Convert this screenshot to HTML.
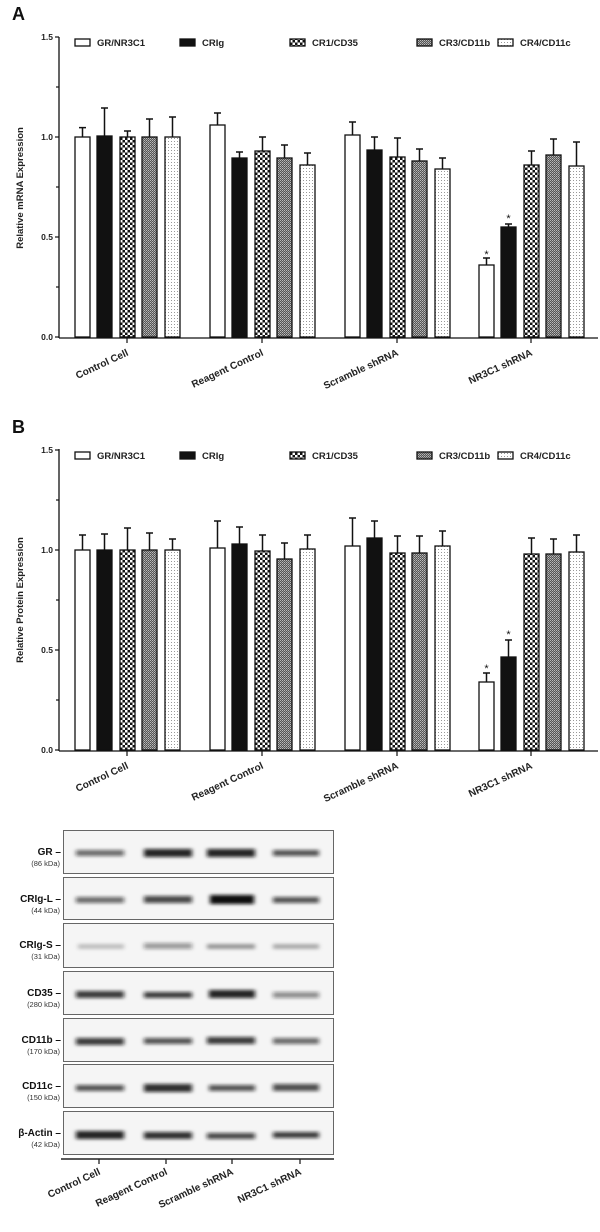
<!DOCTYPE html>
<html><head><meta charset="utf-8"><style>
html,body{margin:0;padding:0;background:#fff;}
svg{display:block;font-family:"Liberation Sans",Arial,sans-serif;}
.t{font-weight:bold;font-size:8.5px;fill:#222;}
.c{font-weight:bold;font-size:10px;fill:#222;}
.lg{font-weight:bold;font-size:9.5px;fill:#222;}
.yl{font-weight:bold;font-size:9.5px;fill:#222;}
.big{font-weight:bold;font-size:18px;fill:#111;}
.bar{stroke:#111;stroke-width:1.3;}
.eb{stroke:#111;stroke-width:1.5;fill:none;}
.kd{font-size:7.5px;fill:#333;}
.bn{font-weight:bold;font-size:10px;fill:#111;}
</style></head><body>
<svg width="600" height="1232" viewBox="0 0 600 1232" xmlns="http://www.w3.org/2000/svg">
<defs>
<pattern id="chk" width="5" height="5" patternUnits="userSpaceOnUse">
<rect width="5" height="5" fill="#111"/><rect x="0" y="0" width="2.5" height="2.5" fill="#fff"/><rect x="2.5" y="2.5" width="2.5" height="2.5" fill="#fff"/></pattern>
<pattern id="gry" width="2" height="2" patternUnits="userSpaceOnUse">
<rect width="2" height="2" fill="#555"/><rect width="1" height="1" fill="#bbb"/><rect x="1" y="1" width="1" height="1" fill="#999"/></pattern>
<pattern id="dot" width="3" height="3" patternUnits="userSpaceOnUse">
<rect width="3" height="3" fill="#fff"/><rect width="1" height="1" fill="#999"/></pattern>
<filter id="bl" x="-20%" y="-150%" width="140%" height="400%"><feGaussianBlur stdDeviation="2 1.7"/></filter>
</defs>

<text class="big" x="12" y="20">A</text>
<text class="big" x="12" y="433">B</text>

<g>
<line x1="59" y1="37" x2="59" y2="338" stroke="#111" stroke-width="1.3"/>
<line x1="59" y1="338" x2="598" y2="338" stroke="#111" stroke-width="1.3"/>
<g stroke="#111" stroke-width="1.2">
<line x1="55" y1="37" x2="59" y2="37"/><line x1="56" y1="87" x2="59" y2="87"/><line x1="55" y1="137" x2="59" y2="137"/><line x1="56" y1="187" x2="59" y2="187"/><line x1="55" y1="237" x2="59" y2="237"/><line x1="56" y1="287" x2="59" y2="287"/><line x1="55" y1="337" x2="59" y2="337"/>
<line x1="127" y1="338" x2="127" y2="343"/><line x1="262" y1="338" x2="262" y2="343"/><line x1="397" y1="338" x2="397" y2="343"/><line x1="531" y1="338" x2="531" y2="343"/>
</g>
<g class="t" text-anchor="end"><text x="53" y="40">1.5</text><text x="53" y="140">1.0</text><text x="53" y="240">0.5</text><text x="53" y="340">0.0</text></g>
<text class="yl" transform="translate(23,188) rotate(-90)" text-anchor="middle">Relative mRNA Expression</text>
<g class="c" text-anchor="end">
<text transform="translate(129,355) rotate(-25)">Control Cell</text>
<text transform="translate(264,355) rotate(-25)">Reagent Control</text>
<text transform="translate(399,355) rotate(-25)">Scramble shRNA</text>
<text transform="translate(533,355) rotate(-25)">NR3C1 shRNA</text>
</g>
<g class="bar">
<rect x="75" y="39" width="15" height="7" fill="#fff"/>
<rect x="180" y="39" width="15" height="7" fill="#111"/>
<rect x="290" y="39" width="15" height="7" fill="url(#chk)"/>
<rect x="417" y="39" width="15" height="7" fill="url(#gry)"/>
<rect x="498" y="39" width="15" height="7" fill="url(#dot)"/>
</g>
<g class="lg"><text x="97" y="46">GR/NR3C1</text><text x="202" y="46">CRIg</text><text x="312" y="46">CR1/CD35</text><text x="439" y="46">CR3/CD11b</text><text x="520" y="46">CR4/CD11c</text></g>
<g class="eb">
<path d="M82.5 137V127.6M79 127.6H86"/><path d="M104.5 136V108M101 108H108"/><path d="M127.5 137V131M124 131H131"/><path d="M149.5 137V119M146 119H153"/><path d="M172.5 137V117M169 117H176"/>
<path d="M217.5 125V113M214 113H221"/><path d="M239.5 158V152M236 152H243"/><path d="M262.5 151V137M259 137H266"/><path d="M284.5 158V145M281 145H288"/><path d="M307.5 165V153M304 153H311"/>
<path d="M352.5 135V122M349 122H356"/><path d="M374.5 150V137M371 137H378"/><path d="M397.5 157V138M394 138H401"/><path d="M419.5 161V149M416 149H423"/><path d="M442.5 169V158M439 158H446"/>
<path d="M486.5 265V258M483 258H490"/><path d="M508.5 227V224M505 224H512"/><path d="M531.5 165V151M528 151H535"/><path d="M553.5 155V139M550 139H557"/><path d="M576.5 166V142M573 142H580"/>
</g>
<g class="bar">
<rect x="75" y="137" width="15" height="200" fill="#fff"/><rect x="97" y="136" width="15" height="201" fill="#111"/><rect x="120" y="137" width="15" height="200" fill="url(#chk)"/><rect x="142" y="137" width="15" height="200" fill="url(#gry)"/><rect x="165" y="137" width="15" height="200" fill="url(#dot)"/>
<rect x="210" y="125" width="15" height="212" fill="#fff"/><rect x="232" y="158" width="15" height="179" fill="#111"/><rect x="255" y="151" width="15" height="186" fill="url(#chk)"/><rect x="277" y="158" width="15" height="179" fill="url(#gry)"/><rect x="300" y="165" width="15" height="172" fill="url(#dot)"/>
<rect x="345" y="135" width="15" height="202" fill="#fff"/><rect x="367" y="150" width="15" height="187" fill="#111"/><rect x="390" y="157" width="15" height="180" fill="url(#chk)"/><rect x="412" y="161" width="15" height="176" fill="url(#gry)"/><rect x="435" y="169" width="15" height="168" fill="url(#dot)"/>
<rect x="479" y="265" width="15" height="72" fill="#fff"/><rect x="501" y="227" width="15" height="110" fill="#111"/><rect x="524" y="165" width="15" height="172" fill="url(#chk)"/><rect x="546" y="155" width="15" height="182" fill="url(#gry)"/><rect x="569" y="166" width="15" height="171" fill="url(#dot)"/>
</g>
<g font-size="11" fill="#111" text-anchor="middle"><text x="486.5" y="258">*</text><text x="508.5" y="222">*</text></g>
</g>

<g>
<line x1="59" y1="449" x2="59" y2="751" stroke="#111" stroke-width="1.3"/>
<line x1="59" y1="751" x2="598" y2="751" stroke="#111" stroke-width="1.3"/>
<g stroke="#111" stroke-width="1.2">
<line x1="55" y1="450" x2="59" y2="450"/><line x1="56" y1="500" x2="59" y2="500"/><line x1="55" y1="550" x2="59" y2="550"/><line x1="56" y1="600" x2="59" y2="600"/><line x1="55" y1="650" x2="59" y2="650"/><line x1="56" y1="700" x2="59" y2="700"/><line x1="55" y1="750" x2="59" y2="750"/>
<line x1="127" y1="751" x2="127" y2="756"/><line x1="262" y1="751" x2="262" y2="756"/><line x1="397" y1="751" x2="397" y2="756"/><line x1="531" y1="751" x2="531" y2="756"/>
</g>
<g class="t" text-anchor="end"><text x="53" y="453">1.5</text><text x="53" y="553">1.0</text><text x="53" y="653">0.5</text><text x="53" y="753">0.0</text></g>
<text class="yl" transform="translate(23,600) rotate(-90)" text-anchor="middle">Relative Protein Expression</text>
<g class="c" text-anchor="end">
<text transform="translate(129,768) rotate(-25)">Control Cell</text>
<text transform="translate(264,768) rotate(-25)">Reagent Control</text>
<text transform="translate(399,768) rotate(-25)">Scramble shRNA</text>
<text transform="translate(533,768) rotate(-25)">NR3C1 shRNA</text>
</g>
<g class="bar">
<rect x="75" y="452" width="15" height="7" fill="#fff"/>
<rect x="180" y="452" width="15" height="7" fill="#111"/>
<rect x="290" y="452" width="15" height="7" fill="url(#chk)"/>
<rect x="417" y="452" width="15" height="7" fill="url(#gry)"/>
<rect x="498" y="452" width="15" height="7" fill="url(#dot)"/>
</g>
<g class="lg"><text x="97" y="459">GR/NR3C1</text><text x="202" y="459">CRIg</text><text x="312" y="459">CR1/CD35</text><text x="439" y="459">CR3/CD11b</text><text x="520" y="459">CR4/CD11c</text></g>
<g class="eb">
<path d="M82.5 550V535M79 535H86"/><path d="M104.5 550V534M101 534H108"/><path d="M127.5 550V528M124 528H131"/><path d="M149.5 550V533M146 533H153"/><path d="M172.5 550V539M169 539H176"/>
<path d="M217.5 548V521M214 521H221"/><path d="M239.5 544V527M236 527H243"/><path d="M262.5 551V535M259 535H266"/><path d="M284.5 559V543M281 543H288"/><path d="M307.5 549V535M304 535H311"/>
<path d="M352.5 546V518M349 518H356"/><path d="M374.5 538V521M371 521H378"/><path d="M397.5 553V536M394 536H401"/><path d="M419.5 553V536M416 536H423"/><path d="M442.5 546V531M439 531H446"/>
<path d="M486.5 682V673M483 673H490"/><path d="M508.5 657V640M505 640H512"/><path d="M531.5 554V538M528 538H535"/><path d="M553.5 554V539M550 539H557"/><path d="M576.5 552V535M573 535H580"/>
</g>
<g class="bar">
<rect x="75" y="550" width="15" height="200" fill="#fff"/><rect x="97" y="550" width="15" height="200" fill="#111"/><rect x="120" y="550" width="15" height="200" fill="url(#chk)"/><rect x="142" y="550" width="15" height="200" fill="url(#gry)"/><rect x="165" y="550" width="15" height="200" fill="url(#dot)"/>
<rect x="210" y="548" width="15" height="202" fill="#fff"/><rect x="232" y="544" width="15" height="206" fill="#111"/><rect x="255" y="551" width="15" height="199" fill="url(#chk)"/><rect x="277" y="559" width="15" height="191" fill="url(#gry)"/><rect x="300" y="549" width="15" height="201" fill="url(#dot)"/>
<rect x="345" y="546" width="15" height="204" fill="#fff"/><rect x="367" y="538" width="15" height="212" fill="#111"/><rect x="390" y="553" width="15" height="197" fill="url(#chk)"/><rect x="412" y="553" width="15" height="197" fill="url(#gry)"/><rect x="435" y="546" width="15" height="204" fill="url(#dot)"/>
<rect x="479" y="682" width="15" height="68" fill="#fff"/><rect x="501" y="657" width="15" height="93" fill="#111"/><rect x="524" y="554" width="15" height="196" fill="url(#chk)"/><rect x="546" y="554" width="15" height="196" fill="url(#gry)"/><rect x="569" y="552" width="15" height="198" fill="url(#dot)"/>
</g>
<g font-size="11" fill="#111" text-anchor="middle"><text x="486.5" y="672">*</text><text x="508.5" y="638">*</text></g>
</g>

<g>
<g fill="#f5f5f5" stroke="#666" stroke-width="1">
<rect x="63.5" y="830.5" width="270" height="43"/>
<rect x="63.5" y="877.5" width="270" height="42"/>
<rect x="63.5" y="923.5" width="270" height="44"/>
<rect x="63.5" y="971.5" width="270" height="43"/>
<rect x="63.5" y="1018.5" width="270" height="43"/>
<rect x="63.5" y="1064.5" width="270" height="43"/>
<rect x="63.5" y="1111.5" width="270" height="43"/>
</g>
<g filter="url(#bl)" fill="#111">
<rect x="76" y="850" width="48" height="6" opacity="0.6"/><rect x="144" y="849" width="48" height="8" opacity="0.9"/><rect x="207" y="849" width="48" height="8" opacity="0.9"/><rect x="273" y="850" width="46" height="6" opacity="0.7"/>
<rect x="76" y="897" width="48" height="6" opacity="0.6"/><rect x="144" y="896" width="48" height="7" opacity="0.75"/><rect x="210" y="895" width="44" height="9" opacity="1"/><rect x="273" y="897" width="46" height="6" opacity="0.7"/>
<rect x="78" y="944" width="46" height="5" opacity="0.22"/><rect x="144" y="943" width="48" height="6" opacity="0.4"/><rect x="207" y="944" width="48" height="5" opacity="0.38"/><rect x="273" y="944" width="46" height="5" opacity="0.3"/>
<rect x="76" y="991" width="48" height="7" opacity="0.8"/><rect x="144" y="992" width="48" height="6" opacity="0.8"/><rect x="209" y="990" width="46" height="8" opacity="0.9"/><rect x="273" y="992" width="46" height="6" opacity="0.45"/>
<rect x="76" y="1038" width="48" height="7" opacity="0.8"/><rect x="144" y="1038" width="48" height="6" opacity="0.7"/><rect x="207" y="1037" width="48" height="7" opacity="0.8"/><rect x="273" y="1038" width="46" height="6" opacity="0.6"/>
<rect x="76" y="1085" width="48" height="6" opacity="0.7"/><rect x="144" y="1084" width="48" height="8" opacity="0.85"/><rect x="209" y="1085" width="46" height="6" opacity="0.7"/><rect x="273" y="1084" width="46" height="7" opacity="0.72"/>
<rect x="76" y="1131" width="48" height="8" opacity="0.9"/><rect x="144" y="1132" width="48" height="7" opacity="0.85"/><rect x="207" y="1133" width="48" height="6" opacity="0.75"/><rect x="273" y="1132" width="46" height="6" opacity="0.8"/>
</g>
<g text-anchor="end">
<text class="bn" x="61" y="855">GR –</text><text class="kd" x="60" y="866">(86 kDa)</text>
<text class="bn" x="61" y="902">CRIg-L –</text><text class="kd" x="60" y="913">(44 kDa)</text>
<text class="bn" x="61" y="948">CRIg-S –</text><text class="kd" x="60" y="959">(31 kDa)</text>
<text class="bn" x="61" y="996">CD35 –</text><text class="kd" x="60" y="1007">(280 kDa)</text>
<text class="bn" x="61" y="1043">CD11b –</text><text class="kd" x="60" y="1054">(170 kDa)</text>
<text class="bn" x="61" y="1089">CD11c –</text><text class="kd" x="60" y="1100">(150 kDa)</text>
<text class="bn" x="61" y="1136">β-Actin –</text><text class="kd" x="60" y="1147">(42 kDa)</text>
</g>
<line x1="61" y1="1159" x2="334" y2="1159" stroke="#222" stroke-width="1.5"/>
<g stroke="#222" stroke-width="1.3"><line x1="99" y1="1159" x2="99" y2="1164"/><line x1="166" y1="1159" x2="166" y2="1164"/><line x1="232" y1="1159" x2="232" y2="1164"/><line x1="300" y1="1159" x2="300" y2="1164"/></g>
<g class="c" text-anchor="end">
<text transform="translate(101,1174) rotate(-25)">Control Cell</text>
<text transform="translate(168,1174) rotate(-25)">Reagent Control</text>
<text transform="translate(234,1174) rotate(-25)">Scramble shRNA</text>
<text transform="translate(302,1174) rotate(-25)">NR3C1 shRNA</text>
</g>
</g>
</svg>
</body></html>
